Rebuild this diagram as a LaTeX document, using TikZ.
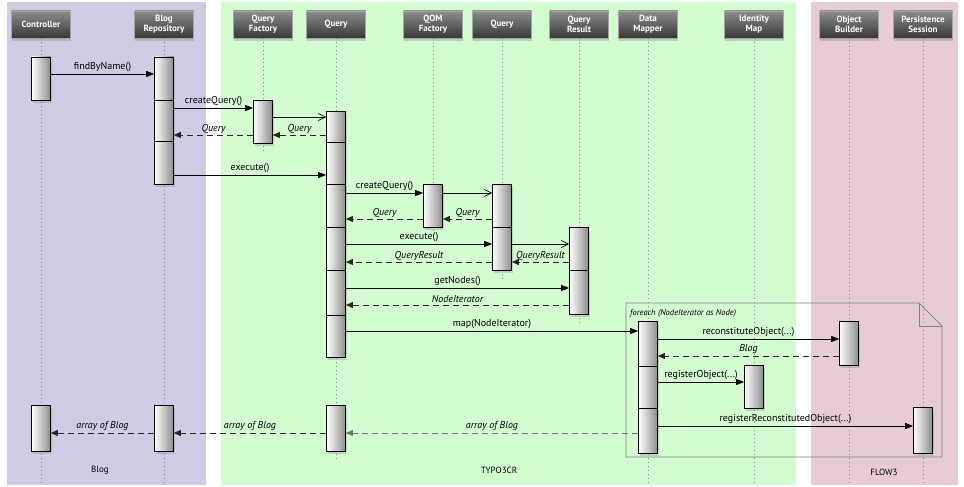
\documentclass[tikz,border=0pt]{standalone}
\usepackage{fontspec}
\setmainfont{PT Sans}
\usetikzlibrary{arrows.meta,shadows}
\definecolor{blogbg}{RGB}{207,205,230}
\definecolor{crbg}{RGB}{211,252,208}
\definecolor{flowbg}{RGB}{232,204,211}

\begin{document}
\begin{tikzpicture}[x=1pt,y=-1pt]
    \tikzset{actor/.style = {shape=rectangle, draw=black!35, top color=black!45, bottom color=black!78,
        text=white, font=\bfseries\fontsize{9}{10}\selectfont, align=center, inner sep=1pt,
        minimum width=59pt, minimum height=27pt,
        drop shadow={shadow xshift=0pt, shadow yshift=-3pt, opacity=.35}}}
    \tikzset{activation/.style = {shape=rectangle, draw=black, line width=0.7pt, left color=white,
        right color=black!45, minimum width=19pt, inner sep=0pt,
        drop shadow={shadow xshift=1.5pt, shadow yshift=-2.5pt, opacity=.3}}}
    \tikzset{lifeline/.style = {draw=black!50, line width=0.6pt, dash pattern=on 1pt off 3pt}}
    \tikzset{call/.style = {draw, line width=0.7pt, -{Triangle[length=8pt,width=6pt]}}}
    \tikzset{create/.style = {draw, line width=0.7pt, -{Straight Barb[length=7pt,width=7pt]}}}
    \tikzset{reply/.style = {draw=black!85, line width=0.8pt, dash pattern=on 6pt off 4pt,
        -{Triangle[length=7pt,width=6pt]}}}
    \tikzset{msg/.style = {above, inner sep=1.5pt, font=\fontsize{10}{11}\selectfont}}
    \tikzset{ret/.style = {above, inner sep=1.5pt, font=\itshape\fontsize{10}{11}\selectfont}}
    \tikzset{frame/.style = {draw=black!50, line width=0.7pt}}

    \useasboundingbox (0,0) rectangle (964,487);

    % areas
    \fill[blogbg] (7,2) rectangle (206,485);
    \fill[crbg] (221,2) rectangle (796,485);
    \fill[flowbg] (811,2) rectangle (958,485);
    \node[font=\fontsize{9}{10}\selectfont] (blogArea) at (100,470) {Blog};
    \node[font=\fontsize{9}{10}\selectfont] (crArea) at (499,470) {TYPO3CR};
    \node[font=\fontsize{9}{10}\selectfont] (flowArea) at (884,472) {FLOW3};

    % actors
    \node[actor] (ctrl) at (41,24.5) {Controller};
    \node[actor] (repo) at (164,24.5) {Blog\\Repository};
    \node[actor] (qfac) at (263,24.5) {Query\\Factory};
    \node[actor] (query) at (336,24.5) {Query};
    \node[actor] (qom) at (433,24.5) {QOM\\Factory};
    \node[actor] (query2) at (502,24.5) {Query};
    \node[actor] (qres) at (579,24.5) {Query\\Result};
    \node[actor] (dmap) at (648,24.5) {Data\\Mapper};
    \node[actor] (imap) at (754,24.5) {Identity\\Map};
    \node[actor] (obuild) at (849,24.5) {Object\\Builder};
    \node[actor] (psess) at (923,24.5) {Persistence\\Session};

    % lifelines
    \foreach \n/\y in {ctrl/484, repo/484, qfac/153, query/462, qom/237, query2/280,
                       qres/324, dmap/484, imap/484, obuild/484, psess/484}
        \draw[lifeline] (\n.south) -- (\n |- 0,\y);

    % loop frame
    \draw[frame] (626,303) -- (919,303) -- (942,326) -- (942,457) -- (626,457) -- cycle;
    \draw[frame] (919,303) |- (942,326);
    \node[anchor=west, inner sep=0pt, font=\itshape\fontsize{8.5}{9}\selectfont] (loop) at (630,313)
        {foreach (NodeIterator as Node)};

    % activations
    \node[activation, minimum height=43pt] (ctrlA) at (41,78.5) {};
    \node[activation, minimum height=46pt] (ctrlB) at (41,428) {};
    \node[activation, minimum height=43pt] (repoA) at (164,78.5) {};
    \node[activation, minimum height=41pt] (repoB) at (164,120.5) {};
    \node[activation, minimum height=43pt] (repoC) at (164,162.5) {};
    \node[activation, minimum height=46pt] (repoD) at (164,428) {};
    \node[activation, minimum height=43pt] (qfacA) at (263,121.5) {};
    \node[activation, minimum height=31pt] (queryA) at (336,126.5) {};
    \node[activation, minimum height=42pt] (queryB) at (336,163) {};
    \node[activation, minimum height=43pt] (queryC) at (336,205.5) {};
    \node[activation, minimum height=43pt] (queryD) at (336,248.5) {};
    \node[activation, minimum height=45pt] (queryE) at (336,292.5) {};
    \node[activation, minimum height=42pt] (queryF) at (336,336) {};
    \node[activation, minimum height=46pt] (queryG) at (336,428) {};
    \node[activation, minimum height=43pt] (qomA) at (433,205.5) {};
    \node[activation, minimum height=43pt] (query2A) at (502,205.5) {};
    \node[activation, minimum height=43pt] (query2B) at (502,248.5) {};
    \node[activation, minimum height=43pt] (qresA) at (579,248.5) {};
    \node[activation, minimum height=44pt] (qresB) at (579,292) {};
    \node[activation, minimum height=45pt] (dmapA) at (648,343.5) {};
    \node[activation, minimum height=42pt] (dmapB) at (648,387) {};
    \node[activation, minimum height=45pt] (dmapC) at (648,430.5) {};
    \node[activation, minimum height=44pt] (obuildA) at (849,343) {};
    \node[activation, minimum height=43pt] (imapA) at (754,386.5) {};
    \node[activation, minimum height=46pt] (psessA) at (923,430) {};

    % message rows
    \foreach \n/\y in {find/74, cq1/108, new1/117, ret1/135, exec1/175, cq2/193, ret2/219,
                       exec2/244, ret3/262, nodes/288, iter/305, map/331, recon/339,
                       blog/356, reg/382, regrec/426, arr/433}
        \coordinate (\n) at (0,\y);

    % messages
    \draw[call] (ctrlA.east |- find) -- node[msg]{findByName()} (repoA.west |- find);
    \draw[call] (repoB.east |- cq1) -- node[msg]{createQuery()} (qfacA.west |- cq1);
    \draw[create] (qfacA.east |- new1) -- (queryA.west |- new1);
    \draw[reply] (queryA.west |- ret1) -- node[ret]{Query} (qfacA.east |- ret1);
    \draw[reply] (qfacA.west |- ret1) -- node[ret]{Query} (repoB.east |- ret1);
    \draw[call] (repoC.east |- exec1) -- node[msg]{execute()} (queryB.west |- exec1);
    \draw[call] (queryC.east |- cq2) -- node[msg]{createQuery()} (qomA.west |- cq2);
    \draw[create] (qomA.east |- cq2) -- (query2A.west |- cq2);
    \draw[reply] (query2A.west |- ret2) -- node[ret]{Query} (qomA.east |- ret2);
    \draw[reply] (qomA.west |- ret2) -- node[ret]{Query} (queryC.east |- ret2);
    \draw[call] (queryD.east |- exec2) -- node[msg]{execute()} (query2B.west |- exec2);
    \draw[create] (query2B.east |- exec2) -- (qresA.west |- exec2);
    \draw[reply] (qresA.west |- ret3) -- node[ret]{QueryResult} (query2B.east |- ret3);
    \draw[reply] (query2B.west |- ret3) -- node[ret]{QueryResult} (queryD.east |- ret3);
    \draw[call] (queryE.east |- nodes) -- node[msg]{getNodes()} (qresB.west |- nodes);
    \draw[reply] (qresB.west |- iter) -- node[ret]{NodeIterator} (queryE.east |- iter);
    \draw[call] (queryF.east |- map) -- node[msg]{map(NodeIterator)} (dmapA.west |- map);
    \draw[call] (dmapA.east |- recon) -- node[msg]{reconstituteObject(...)} (obuildA.west |- recon);
    \draw[reply] (obuildA.west |- blog) -- node[ret]{Blog} (dmapA.east |- blog);
    \draw[call] (dmapB.east |- reg) -- node[msg]{registerObject(...)} (imapA.west |- reg);
    \draw[call] (dmapC.east |- regrec) -- node[msg]{registerReconstitutedObject(...)} (psessA.west |- regrec);
    \draw[reply, draw=black!55] (dmapC.west |- arr) -- node[ret]{array of Blog} (queryG.east |- arr);
    \draw[reply] (queryG.west |- arr) -- node[ret]{array of Blog} (repoD.east |- arr);
    \draw[reply] (repoD.west |- arr) -- node[ret]{array of Blog} (ctrlB.east |- arr);
\end{tikzpicture}
\end{document}
